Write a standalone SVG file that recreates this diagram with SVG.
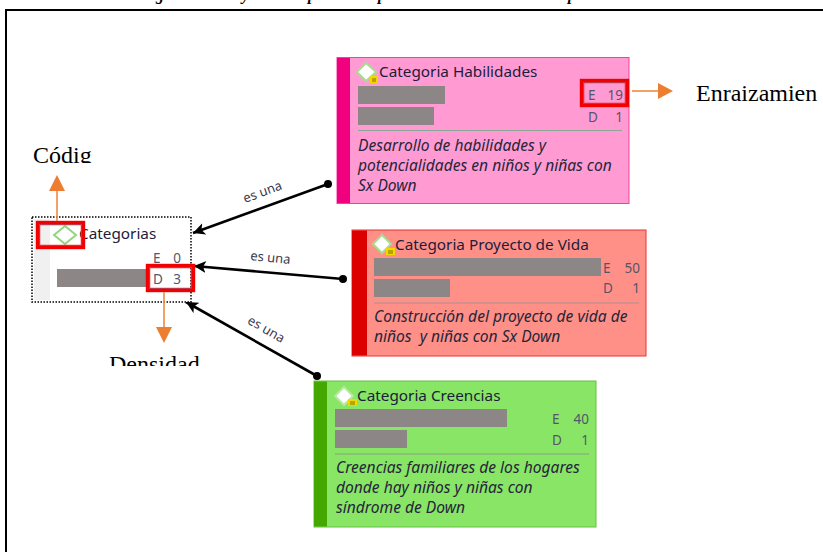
<svg xmlns="http://www.w3.org/2000/svg" width="823" height="552" viewBox="0 0 823 552">
<style>
.t{font-family:"Noto Sans","Open Sans",sans-serif;font-size:15.300px;fill:#1c1c3c}
.d{font-family:"Noto Sans","Open Sans",sans-serif;font-size:15.600px;font-style:italic;fill:#26263a;white-space:pre}
.n{font-family:"Noto Sans","Open Sans",sans-serif;font-size:13.500px;fill:#55556a}
.e{text-anchor:end}
.l{font-family:"Noto Sans","Open Sans",sans-serif;font-size:13px;fill:#3a3a50}
.r{font-family:"Liberation Serif",serif;font-size:24px;fill:#000}
.h{font-family:"Liberation Serif",serif;font-size:16px;font-weight:bold;font-style:italic;fill:#000}
.bar{fill:#8c8686}
.red{fill:none;stroke:#f00000;stroke-width:4.400}
.redi{fill:none;stroke:#a85068;stroke-width:.7}
.or{stroke:#f08a40;stroke-width:1.600;fill:none}
.orh{fill:#ed7d31}
.con{stroke:#000;stroke-width:2.600;fill:none;marker-end:url(#ah)}
.sep{stroke-width:1}
.dia{fill:#fff;stroke:#a8dc90;stroke-width:2}
.memo{fill:#f0d800}
.ml{stroke:#665500;stroke-width:.8;fill:none}
</style>
<defs>
<marker id="ah" markerUnits="userSpaceOnUse" markerWidth="14" markerHeight="14" refX="12" refY="6" orient="auto"><path d="M0 0L12 6L0 12L3 6Z" fill="#000"/></marker>
<clipPath id="c1"><rect x="20" y="130" width="100" height="33"/></clipPath>
<clipPath id="c2"><rect x="90" y="340" width="130" height="26"/></clipPath>
</defs>
<rect width="823" height="552" fill="#fff"/>
<g id="caption">
<text class="h" x="156" y="0">g</text><text class="h" x="242" y="0">y</text><text class="h" x="308" y="0">p</text><text class="h" x="378" y="0">p</text><text class="h" x="568" y="0">p</text>
</g>
<path id="frame" d="M6 552V10H823" fill="none" stroke="#000" stroke-width="2"/>
<g id="connectors">
<path class="con" d="M328 184L193 233"/><circle cx="328" cy="184" r="4"/>
<path class="con" d="M343 279L194 266"/><circle cx="343" cy="279" r="4"/>
<path class="con" d="M317 376L186 302"/><circle cx="317" cy="376" r="4"/>
<text class="l" text-anchor="middle" transform="translate(264 196) rotate(-20)">es una</text>
<text class="l" text-anchor="middle" transform="translate(270 262) rotate(6)">es una</text>
<text class="l" text-anchor="middle" transform="translate(264 333) rotate(30)">es una</text>
</g>
<g id="node-categorias">
<rect x="32" y="217" width="159" height="85" fill="#fff" stroke="#000" stroke-width="1.500" stroke-dasharray="1.500 1.500"/>
<rect x="34" y="219" width="16" height="81" fill="#f0f0f0"/>
<path class="dia" d="M65 226L76 235L65 244L54 235Z" style="stroke:#94d47c"/>
<text class="t" x="79" y="239">Categorias</text>
<text class="n" x="153" y="263">E</text><text class="n e" x="181" y="263">0</text>
<rect class="bar" x="57" y="269" width="92" height="18"/>
<text class="n" x="153" y="284">D</text><text class="n e" x="181" y="284">3</text>
</g>
<g id="node-habilidades">
<rect x="337" y="57.500" width="292" height="146" fill="#ff9bd2" stroke="#f53fa0" stroke-width="1"/>
<rect x="337" y="58" width="13" height="145" fill="#f0007f"/>
<path class="dia" d="M366 63L376 72L366 81L357 72Z"/><rect class="memo" x="370" y="76" width="8" height="7"/><path class="ml" d="M372 79H376M372 81H376"/>
<text class="t" x="379" y="77">Categoria Habilidades</text>
<rect class="bar" x="358" y="86" width="87" height="18"/>
<rect class="bar" x="358" y="107" width="76" height="18"/>
<text class="n" x="588" y="100">E</text><text class="n e" x="623" y="100">19</text>
<text class="n" x="588" y="121.500">D</text><text class="n e" x="623" y="121.500">1</text>
<path class="sep" stroke="#8aa898" d="M358 130.500H622"/>
<text class="d" x="358" y="151">Desarrollo de habilidades y</text>
<text class="d" x="358" y="171">potencialidades en niños y niñas con</text>
<text class="d" x="358" y="191">Sx Down</text>
</g>
<g id="node-proyecto">
<rect x="352" y="230" width="294" height="126" fill="#ff9088" stroke="#ee3030" stroke-width="1"/>
<rect x="352" y="230.500" width="15" height="125" fill="#dd0000"/>
<path class="dia" d="M382 235L391 244L382 253L373 244Z"/><rect class="memo" x="386" y="248" width="9" height="7"/><path class="ml" d="M388 251H393M388 253H393"/>
<text class="t" x="395" y="250">Categoria Proyecto de Vida</text>
<rect class="bar" x="374" y="258" width="227" height="18"/>
<rect class="bar" x="374" y="279" width="76" height="18"/>
<text class="n" x="603" y="272.500">E</text><text class="n e" x="640" y="272.500">50</text>
<text class="n" x="603" y="293">D</text><text class="n e" x="640" y="293">1</text>
<path class="sep" stroke="#a89090" d="M374 303H639"/>
<text class="d" x="374" y="322">Construcción del proyecto de vida de</text>
<text class="d" x="374" y="342">niños  y niñas con Sx Down</text>
</g>
<g id="node-creencias">
<rect x="314" y="381" width="282" height="146" fill="#88e566" stroke="#66c040" stroke-width="1"/>
<rect x="314" y="381.500" width="13" height="145" fill="#44a800"/>
<path class="dia" d="M344 387L353 396L344 405L335 396Z" style="stroke:#b8e8a0"/><rect class="memo" x="348" y="399" width="9" height="7"/><path class="ml" d="M350 402H355M350 404H355"/>
<text class="t" x="357" y="401">Categoria Creencias</text>
<rect class="bar" x="335" y="409" width="172" height="18"/>
<rect class="bar" x="335" y="430" width="72" height="18"/>
<text class="n" x="552" y="423.500">E</text><text class="n e" x="589" y="423.500">40</text>
<text class="n" x="552" y="445">D</text><text class="n e" x="589" y="445">1</text>
<path class="sep" stroke="#88a080" d="M335 454H589"/>
<text class="d" x="336" y="473">Creencias familiares de los hogares</text>
<text class="d" x="336" y="493">donde hay niños y niñas con</text>
<text class="d" x="336" y="513">síndrome de Down</text>
</g>
<g id="annotation-codigo">
<rect class="red" x="38" y="223" width="45" height="24"/><rect class="redi" x="39.500" y="224.500" width="42" height="21"/>
<path class="or" d="M57 221V190"/><path class="orh" d="M57 175L65 191H49Z"/>
<text class="r" x="33" y="163" clip-path="url(#c1)">Códig</text>
</g>
<g id="annotation-densidad">
<rect class="red" x="148" y="266" width="45" height="24"/><rect class="redi" x="149.500" y="267.500" width="42" height="21"/>
<path class="or" d="M164 292V328"/><path class="orh" d="M164 343L156 327H172Z"/>
<text class="r" x="109" y="372" clip-path="url(#c2)">Densidad</text>
</g>
<g id="annotation-enraizamiento">
<rect class="red" x="582" y="81" width="45" height="24"/><rect class="redi" x="583.500" y="82.500" width="42" height="21"/>
<path class="or" d="M632 91H660"/><path class="orh" d="M673 91L658 83V99Z"/>
<text class="r" x="696" y="101">Enraizamien</text>
</g>
</svg>
